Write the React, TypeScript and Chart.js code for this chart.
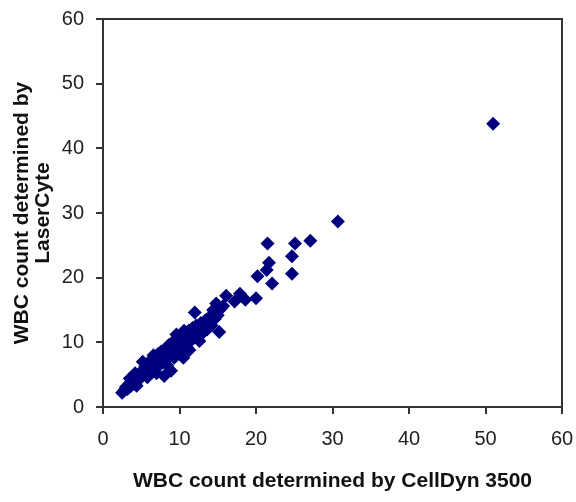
import React, { useEffect, useRef } from "react";
import { Chart, registerables } from "chart.js";

Chart.register(...registerables);

const cellDyn: number[] = [
  2.5, 2.8, 3.0, 3.2, 3.4, 3.6, 3.8, 4.0, 4.1, 4.3, 4.5, 4.6, 4.8, 4.9, 5.0, 5.1, 5.2, 5.3, 5.4, 5.5,
  5.6, 5.8, 5.9, 6.0, 6.1, 6.2, 6.3, 6.4, 6.5, 6.6, 6.8, 6.9, 7.0, 7.1, 7.2, 7.3, 7.4, 7.5, 7.6, 7.7,
  7.8, 7.9, 8.0, 8.1, 8.2, 8.3, 8.4, 8.5, 8.6, 8.7, 8.8, 8.9, 9.0, 9.1, 9.2, 9.3, 9.4, 9.5, 9.6, 9.8,
  9.9, 10.0, 10.1, 10.2, 10.3, 10.4, 10.5, 10.6, 10.8, 10.9, 11.0, 11.2, 11.3, 11.4, 11.5, 11.7, 11.8, 12.0, 12.0, 12.2,
  12.4, 12.6, 12.8, 13.0, 13.2, 13.4, 13.6, 13.8, 14.0, 14.2, 14.4, 14.6, 14.8, 15.0, 15.2, 15.4, 15.7,
  3.5, 4.2, 4.4, 5.8, 6.6, 7.0, 9.6, 10.6, 12.6,
  16.1, 17.2, 17.9, 18.6, 20.0, 20.2, 21.4, 21.7, 22.1, 21.5, 24.7, 24.7, 25.1, 27.1, 30.7, 51.0,
];

const laserCyte: number[] = [
  2.2, 2.6, 3.1, 2.8, 3.5, 3.2, 4.0, 3.6, 4.4, 3.9, 4.6, 4.2, 5.0, 4.5, 5.4, 4.8, 7.0, 5.8, 5.1, 6.2,
  5.5, 6.0, 5.2, 6.6, 5.7, 7.2, 6.2, 5.6, 7.0, 6.4, 7.6, 6.8, 6.0, 7.4, 8.2, 6.6, 7.8, 7.1, 8.6, 6.9,
  7.9, 8.4, 4.8, 7.4, 9.0, 8.0, 6.4, 8.6, 9.6, 7.8, 9.2, 5.6, 8.4, 10.0, 9.0, 7.6, 9.6, 10.4, 8.8, 9.4,
  10.8, 8.2, 10.0, 9.0, 11.0, 9.8, 7.6, 10.4, 11.4, 9.4, 10.8, 11.8, 8.8, 10.2, 11.2, 12.2, 10.6, 14.6, 11.6, 12.6,
  10.8, 12.0, 13.0, 11.4, 12.4, 13.4, 12.0, 13.0, 14.0, 12.6, 15.0, 13.6, 16.0, 14.2, 11.6, 15.2, 15.6,
  4.4, 5.2, 3.3, 4.6, 8.0, 5.2, 11.2, 11.8, 10.2,
  17.2, 16.3, 17.5, 16.6, 16.8, 20.2, 21.2, 22.3, 19.1, 25.3, 20.6, 23.3, 25.3, 25.7, 28.7, 43.8,
];

const tickValues: number[] = [0, 10, 20, 30, 40, 50, 60];
const xTitle = "WBC count determined by CellDyn 3500";
const yTitle: string[] = ["WBC count determined by", "LaserCyte"];

const frame = {
  id: "frame",
  afterDraw(chart: any) {
    const { ctx, chartArea } = chart;
    ctx.save();
    ctx.strokeStyle = "#333333";
    ctx.lineWidth = 2;
    ctx.beginPath();
    ctx.moveTo(chartArea.left, chartArea.top);
    ctx.lineTo(chartArea.right, chartArea.top);
    ctx.lineTo(chartArea.right, chartArea.bottom);
    ctx.stroke();
    ctx.restore();
  },
};

export default function App() {
  const ref = useRef<HTMLCanvasElement | null>(null);
  useEffect(() => {
    if (!ref.current) return;
    const points = cellDyn.map((x, i) => ({ x, y: laserCyte[i] }));
    const tickFont = { family: "'Liberation Sans', Arial, sans-serif", size: 20 };
    const titleFont = { family: "'Liberation Sans', Arial, sans-serif", size: 21, weight: "bold" as const, lineHeight: 1.0 };
    const chart = new Chart(ref.current, {
      type: "scatter",
      data: {
        datasets: [
          {
            data: points,
            pointStyle: "rectRot",
            pointRadius: 7,
            pointHoverRadius: 7,
            backgroundColor: "#00007f",
            borderColor: "#00007f",
            borderWidth: 0,
          },
        ],
      },
      options: {
        animation: false,
        responsive: false,
        events: [],
        layout: { padding: { left: 4, right: 14, top: 19, bottom: 6 } },
        plugins: { legend: { display: false }, tooltip: { enabled: false } },
        scales: {
          x: {
            type: "linear",
            min: 0,
            max: 60,
            afterBuildTicks: (s: any) => { s.ticks = tickValues.map((v) => ({ value: v })); },
            afterFit: (s: any) => { s.height = 89; s.paddingLeft = 0; s.paddingRight = 0; },
            grid: { drawOnChartArea: false, drawTicks: true, tickLength: 7, color: "#333333", lineWidth: 2 },
            border: { color: "#333333", width: 2 },
            ticks: { color: "#222222", font: tickFont, padding: 13 },
            title: { display: true, text: xTitle, color: "#111111", font: titleFont, padding: { top: 12 } },
          },
          y: {
            type: "linear",
            min: 0,
            max: 60,
            afterBuildTicks: (s: any) => { s.ticks = tickValues.map((v) => ({ value: v })); },
            afterFit: (s: any) => { s.width = 99; s.paddingTop = 0; s.paddingBottom = 0; },
            grid: { drawOnChartArea: false, drawTicks: true, tickLength: 7, color: "#333333", lineWidth: 2 },
            border: { color: "#333333", width: 2 },
            ticks: { color: "#222222", font: tickFont, padding: 12 },
            title: { display: true, text: yTitle, color: "#111111", font: titleFont, padding: { top: 8, bottom: 4 } },
          },
        },
      },
      plugins: [frame],
    });
    return () => chart.destroy();
  }, []);
  return (
    <div style={{ position: "fixed", left: 0, top: 0, width: 576, height: 502, background: "#ffffff" }}>
      <canvas ref={ref} width={576} height={502} style={{ width: 576, height: 502 }} />
    </div>
  );
}
